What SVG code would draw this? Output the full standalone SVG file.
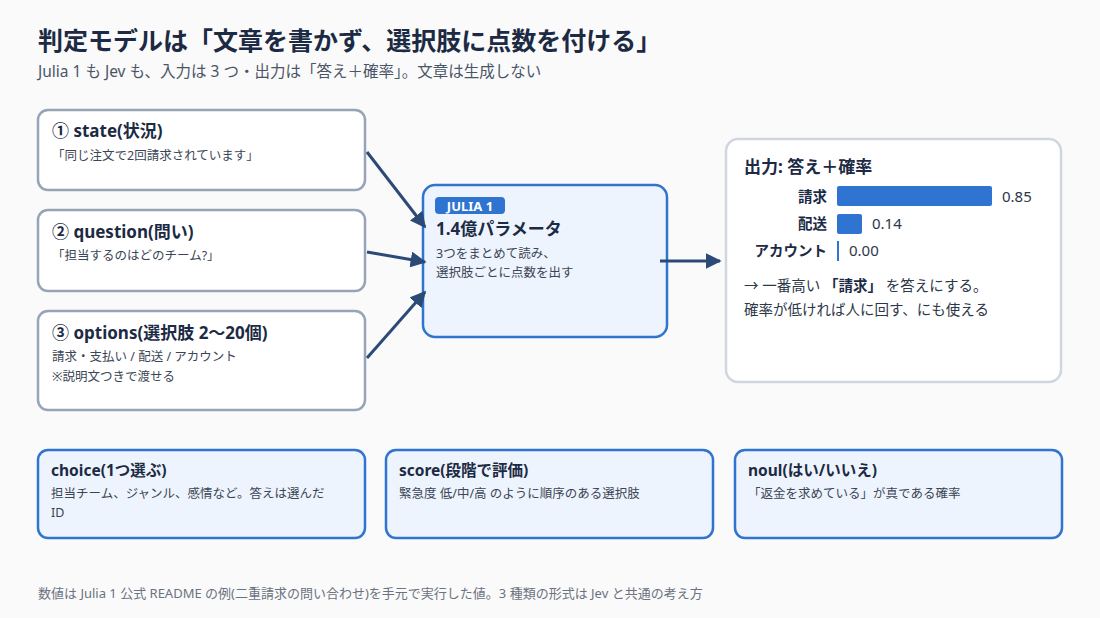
<svg xmlns="http://www.w3.org/2000/svg" width="1100" height="618" viewBox="0 0 1100 618">
<style>
text{font-family:"Noto Sans","Noto Sans CJK JP",sans-serif}
.in{fill:#fff;stroke:#97a3b6;stroke-width:2.5}
.bl{fill:#eef4fd;stroke:#2f74d0;stroke-width:2.5}
.h{font-size:17px;font-weight:700;fill:#1c2a44}
.h2{font-size:15.5px;font-weight:700;fill:#1c2a44}
.t{font-size:12.5px;fill:#3b4555}
</style>
<defs>
<marker id="b" viewBox="0 0 10 10" refX="9" refY="5" markerWidth="16" markerHeight="16" markerUnits="userSpaceOnUse" orient="auto"><path d="M0,0L10,5L0,10z" fill="#2c4a78"/></marker></defs>
<rect width="1100" height="618" fill="#fafafa"/>
<text x="38" y="50" font-size="25" font-weight="700" fill="#1c2a44">判定モデルは「文章を書かず、選択肢に点数を付ける」</text>
<text x="38" y="77" font-size="15.5" fill="#4a5568">Julia 1 も Jev も、入力は 3 つ・出力は「答え＋確率」。文章は生成しない</text>
<g id="n1"><rect class="in" x="38" y="110" width="327" height="80" rx="10"/><text class="h" x="52" y="137">① state(状況)</text><text class="t" x="52" y="160">「同じ注文で2回請求されています」</text></g>
<g id="n2"><rect class="in" x="38" y="210" width="327" height="81" rx="10"/><text class="h" x="52" y="238">② question(問い)</text><text class="t" x="52" y="260">「担当するのはどのチーム?」</text></g>
<g id="n3"><rect class="in" x="38" y="311" width="327" height="99" rx="10"/><text class="h" x="52" y="339">③ options(選択肢 2〜20個)</text><text class="t" x="52" y="361">請求・支払い / 配送 / アカウント</text><text class="t" x="52" y="381">※説明文つきで渡せる</text></g>
<g id="model"><rect class="bl" x="423" y="185" width="244" height="152" rx="12"/><rect x="435" y="197" width="70" height="17" rx="4" fill="#2f74d0"/><text x="470" y="210.5" font-size="13" font-weight="700" fill="#fff" text-anchor="middle">JULIA 1</text><text class="h" x="436" y="235">1.4億パラメータ</text><text class="t" x="436" y="258">3つをまとめて読み、</text><text class="t" x="436" y="277">選択肢ごとに点数を出す</text></g>
<g id="out"><rect x="726" y="139" width="335" height="243" rx="12" fill="#fff" stroke="#cfd6e0" stroke-width="2.5"/>
<text class="h" x="744" y="173">出力: 答え＋確率</text>
<g font-size="14.5" font-weight="700" fill="#1c2a44" text-anchor="end"><text x="827" y="202">請求</text><text x="827" y="229">配送</text><text x="827" y="256">アカウント</text></g>
<rect x="837" y="186" width="155" height="20" rx="2" fill="#2f74d0"/><rect x="837" y="214" width="25" height="20" rx="2" fill="#2f74d0"/><rect x="837" y="241" width="2" height="20" fill="#2f74d0"/>
<g font-size="15" fill="#2d3748"><text x="1002" y="202">0.85</text><text x="872" y="229">0.14</text><text x="849" y="256">0.00</text></g>
<text x="744" y="291" font-size="14.5" fill="#2d3748">→ 一番高い <tspan font-weight="700" fill="#1c2a44">「請求」</tspan> を答えにする。</text>
<text x="744" y="315" font-size="14.5" fill="#2d3748">確率が低ければ人に回す、にも使える</text></g>
<g id="connectors"><path d="M367,152L425,227" stroke="#2c4a78" stroke-width="3" marker-end="url(#b)"/><path d="M367,252L425,262" stroke="#2c4a78" stroke-width="3" marker-end="url(#b)"/><path d="M367,358L425,292" stroke="#2c4a78" stroke-width="3" marker-end="url(#b)"/><path d="M660,261L720,261" stroke="#2c4a78" stroke-width="3" marker-end="url(#b)"/></g>
<g id="b1"><rect class="bl" x="38" y="450" width="327" height="88" rx="10"/><text class="h2" x="51" y="476">choice(1つ選ぶ)</text><text class="t" x="51" y="498">担当チーム、ジャンル、感情など。答えは選んだ</text><text class="t" x="51" y="517">ID</text></g>
<g id="b2"><rect class="bl" x="386" y="450" width="327" height="88" rx="10"/><text class="h2" x="399" y="476">score(段階で評価)</text><text class="t" x="399" y="498">緊急度 低/中/高 のように順序のある選択肢</text></g>
<g id="b3"><rect class="bl" x="735" y="450" width="327" height="88" rx="10"/><text class="h2" x="748" y="476">noul(はい/いいえ)</text><text class="t" x="748" y="498">「返金を求めている」が真である確率</text></g>
<text x="38" y="598" font-size="13" fill="#6b7280">数値は Julia 1 公式 README の例(二重請求の問い合わせ)を手元で実行した値。3 種類の形式は Jev と共通の考え方</text>
</svg>
